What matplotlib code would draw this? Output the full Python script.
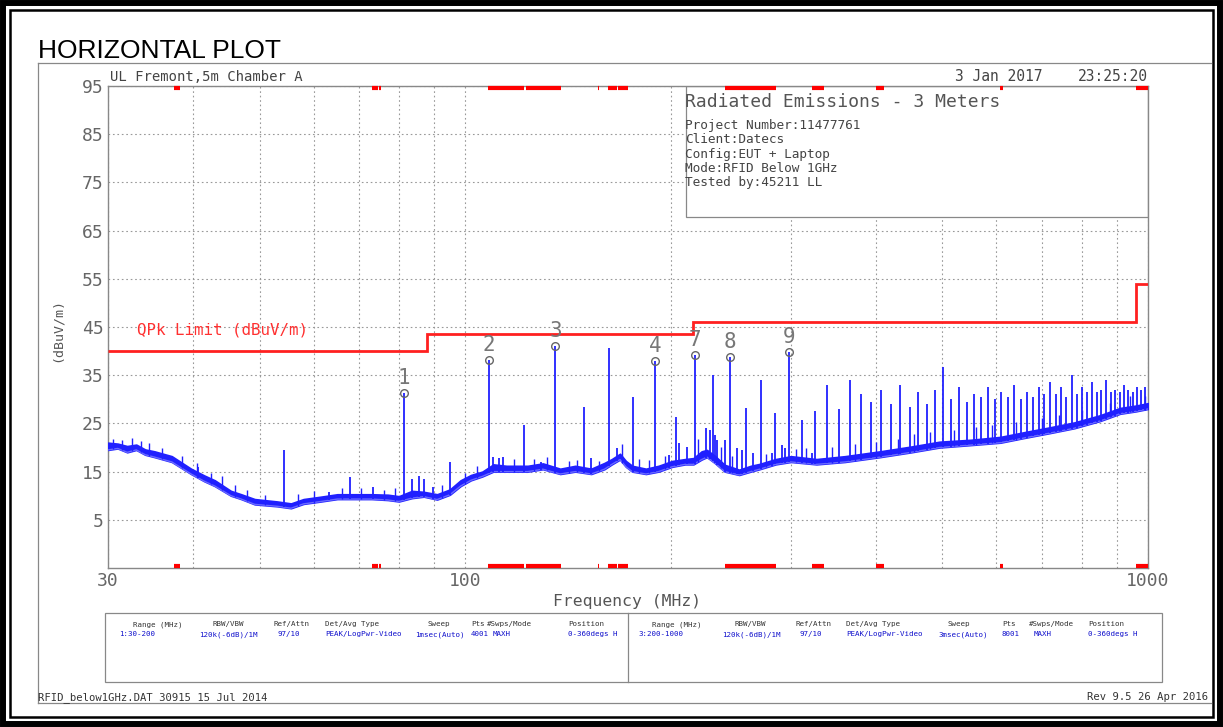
import numpy as np
import matplotlib
matplotlib.use("Agg")
import matplotlib.pyplot as plt
from matplotlib.patches import Rectangle
from matplotlib.lines import Line2D

W, H = 1223, 727
MONO = "DejaVu Sans Mono"
GRAY = "#555555"
BLUE = "#2020ff"

# noise floor envelope (MHz, dBuV/m)
floor_f = [30, 31, 32, 33, 34, 35.1, 37.2, 39.7, 41.5, 43, 45.4, 47, 49.2, 53.1, 55.6, 58,
           61.5, 65, 68.8, 73, 77.1, 80, 83.6, 87, 91, 95, 98.5, 102, 106, 110, 115, 123.5,
           130, 137.8, 145, 153, 160, 164, 168.6, 172, 175.7, 184, 192, 201, 210, 216, 222,
           226, 232, 240, 252, 262, 270, 285, 300, 327, 360, 405, 450, 495, 550, 608, 660,
           719, 780, 851, 910, 960, 1000]
floor_lo = [19.5, 19.8, 19.0, 19.5, 18.5, 18.0, 17.0, 14.5, 13.0, 12.0, 10.0, 9.3, 8.2, 7.8, 7.4, 8.3,
            8.8, 9.3, 9.3, 9.3, 9.1, 8.8, 9.5, 9.8, 9.2, 10.2, 12.0, 13.2, 14.0, 15.0, 15.0, 15.0,
            15.5, 14.5, 15.0, 14.5, 15.5, 16.5, 17.5, 16.0, 15.0, 14.5, 15.0, 16.0, 16.5, 16.5, 17.5,
            18.0, 16.8, 15.0, 14.3, 15.0, 15.5, 16.5, 17.0, 16.5, 17.0, 18.0, 19.0, 20.0, 20.5, 21.0, 22.0,
            23.0, 24.0, 25.5, 27.0, 27.5, 28.0]
floor_hi = [21.0, 20.8, 20.3, 20.6, 19.6, 19.2, 18.2, 15.6, 14.2, 13.2, 11.0, 10.3, 9.3, 8.8, 8.4, 9.3,
            9.8, 10.3, 10.3, 10.3, 10.2, 9.9, 11.0, 10.8, 10.3, 11.3, 13.2, 14.3, 15.0, 16.5, 16.2, 16.2,
            16.7, 15.6, 16.2, 15.6, 16.8, 17.6, 18.7, 17.2, 16.2, 15.6, 16.2, 17.2, 17.6, 17.8, 19.2,
            19.5, 18.3, 16.4, 15.4, 16.2, 16.6, 17.6, 18.2, 17.6, 18.2, 19.2, 20.2, 21.2, 21.6, 22.2, 23.2,
            24.2, 25.2, 26.7, 28.2, 28.7, 29.2]

# small noise peaks riding on the floor
grass_f = [30.5, 31.5, 32.5, 33.5, 34.5, 36, 38.5, 40.5, 42.5, 44, 46, 48, 51, 57, 60, 66, 70.5, 76,
           79, 92.5, 100, 104, 118, 126, 132, 142, 146, 157, 170, 180, 186, 196, 219, 237, 246, 276,
           305, 316, 345, 372, 400, 430, 455, 480, 520, 560, 590, 640, 700, 740, 800, 880, 940, 990]
grass_db = [21.8, 21.5, 22.0, 21.3, 21.0, 20.0, 18.3, 16.8, 14.8, 14.0, 12.2, 11.2, 10.2, 10.4, 11.0,
            11.7, 11.7, 11.2, 11.7, 12.2, 14.7, 16.2, 17.7, 17.7, 18.0, 17.2, 17.5, 17.2, 20.7, 17.7,
            17.4, 18.2, 21.7, 20.2, 18.2, 18.7, 19.7, 20.0, 20.2, 20.7, 21.2, 21.7, 22.7, 23.2, 23.7,
            24.2, 24.7, 25.2, 26.2, 26.7, 27.7, 29.2, 30.7, 30.7]

# emission spikes below 330 MHz
spike_f_low = [40.68, 54.24, 63.3, 67.8, 73.4, 81.36, 83.5, 85.5, 87, 89.6, 94.92, 108.48, 110, 112,
               113.8, 122.04, 129, 135.6, 149.16, 153, 162.72, 167, 176.28, 189.84, 199, 203.4, 206,
               211, 216.96, 225, 228, 230.52, 232, 234, 240, 244.08, 250, 254, 257.64, 264, 271.2,
               281, 284.76, 291, 294, 298.32, 311.88, 322]
spike_db_low = [15.9, 19.5, 10.8, 13.9, 11.8, 31.3, 13.5, 14.0, 13.5, 11.8, 17.0, 38.2, 18.0, 17.8,
                18.0, 24.7, 17.0, 41.0, 28.4, 17.8, 40.6, 19.9, 30.5, 38.0, 18.5, 26.3, 20.9,
                20.2, 39.2, 24.0, 23.6, 35.0, 22.6, 21.6, 21.6, 38.8, 19.9, 19.5, 28.2, 18.9, 34.0,
                18.9, 27.2, 20.5, 19.9, 39.8, 25.7, 18.9]

# emission spikes above 330 MHz
spike_f_high = [325.4, 339.0, 352.6, 366.1, 379.7, 393.2, 406.8, 420.4, 433.9, 447.5, 461.0, 474.6,
                488.2, 501.7, 515.3, 528.8, 542.4, 556.0, 569.5, 583.1, 596.6, 610.2, 623.8, 637.3,
                650.9, 664.4, 678.0, 691.6, 705.1, 718.7, 732.2, 745.8, 759.4, 772.9, 786.5, 800.0,
                813.6, 827.2, 840.7, 854.3, 867.8, 881.4, 895.0, 908.5, 922.1, 935.6, 949.2, 962.8,
                976.3, 989.9]
spike_db_high = [27.5, 33.0, 28.0, 34.0, 31.0, 29.5, 32.0, 29.0, 33.0, 28.5, 31.5, 29.0,
                 32.0, 36.7, 30.0, 32.5, 29.5, 31.0, 30.5, 32.5, 30.0, 31.5, 30.5, 33.0,
                 30.0, 31.5, 30.5, 32.5, 31.0, 33.5, 31.0, 32.5, 30.5, 35.0, 31.0, 32.5,
                 31.5, 33.5, 31.5, 32.0, 34.0, 31.5, 32.0, 31.5, 33.0, 32.0, 31.5, 32.5,
                 32.0, 32.5]

# QPk limit
limit_edges = [30, 88, 216, 960, 1000]
limit_db = [40, 43.5, 46, 54]

# markers
marker_num = ["1", "2", "3", "4", "7", "8", "9"]
marker_f = [81.36, 108.48, 135.6, 189.84, 216.96, 244.08, 298.32]
marker_db = [31.3, 38.2, 41.0, 38.0, 39.2, 38.8, 39.8]

# restricted bands
band_lo = [37.5, 73, 74.8, 108, 123, 149.9, 156.52, 156.7, 162.0125, 167.72, 240, 322, 399.9, 608, 960]
band_hi = [38.25, 74.6, 75.2, 121.94, 138, 150.05, 156.53, 156.9, 167.17, 173.2, 285, 335.4, 410, 614, 1000]

hdr_cols = ["Range (MHz)", "RBW/VBW", "Ref/Attn", "Det/Avg Type", "Sweep", "Pts", "#Swps/Mode", "Position"]
row1 = ["1:30-200", "120k(-6dB)/1M", "97/10", "PEAK/LogPwr-Video", "1msec(Auto)", "4001", "MAXH", "0-360degs H"]
row2 = ["3:200-1000", "120k(-6dB)/1M", "97/10", "PEAK/LogPwr-Video", "3msec(Auto)", "8001", "MAXH", "0-360degs H"]

info_lines = ["Project Number:11477761", "Client:Datecs", "Config:EUT + Laptop",
              "Mode:RFID Below 1GHz", "Tested by:45211 LL"]


def px(x, y):
    return x / W, 1 - y / H


def hline(x0, x1, y, **kw):
    fig.add_artist(Line2D([x0 / W, x1 / W], [1 - y / H, 1 - y / H], transform=fig.transFigure, **kw))


def vline(x, y0, y1, **kw):
    fig.add_artist(Line2D([x / W, x / W], [1 - y0 / H, 1 - y1 / H], transform=fig.transFigure, **kw))


fig = plt.figure(figsize=(W / 100, H / 100), dpi=100)

# page frame
fig.add_artist(Rectangle(px(3, H - 3), (W - 6) / W, (H - 6) / H, transform=fig.transFigure,
                         fill=False, lw=4.3, ec="black"))
fig.add_artist(Rectangle(px(10, H - 10), (W - 20) / W, (H - 20) / H, transform=fig.transFigure,
                         fill=False, lw=1.8, ec="black"))
hline(38, 1211, 63, color="#888888", lw=0.9)
hline(38, 1211, 703, color="#888888", lw=0.9)
vline(38, 63, 703, color="#888888", lw=0.9)

ax = fig.add_axes([108 / W, 1 - 568 / H, 1040 / W, 482 / H])
ax.set_xscale("log")
ax.set_xlim(30, 1000)
ax.set_ylim(-5, 95)

ax.set_yticks(np.arange(5, 96, 10))
ax.set_yticklabels([str(v) for v in range(5, 96, 10)], fontsize=13, color="#666666", family=MONO)
ax.set_xticks([30, 100, 1000])
ax.set_xticklabels(["30", "100", "1000"], fontsize=13, color="#666666", family=MONO)
ax.set_xticks([40, 50, 60, 70, 80, 90, 200, 300, 400, 500, 600, 700, 800, 900], minor=True)
ax.xaxis.set_minor_formatter(matplotlib.ticker.NullFormatter())
ax.tick_params(which="both", length=0, pad=3)
ax.grid(True, which="both", axis="x", color="#999999", lw=0.8, ls=(0, (1.5, 2.5)))
ax.grid(True, which="major", axis="y", color="#999999", lw=0.8, ls=(0, (1.5, 2.5)))
for s in ax.spines.values():
    s.set_color("#888888")
    s.set_linewidth(1.0)

# info box
ax.add_patch(Rectangle((0.5553, 0.7282), 0.4447, 0.2718, transform=ax.transAxes,
                       facecolor="white", edgecolor="#888888", lw=0.9, zorder=2))

# trace
ax.fill_between(floor_f, floor_lo, floor_hi, color=BLUE, ec=BLUE, lw=1.2, zorder=3)
ax.plot(floor_f, floor_lo, color="#6a6aff", lw=1.0, zorder=3)
ax.vlines(grass_f, np.interp(grass_f, floor_f, floor_lo), grass_db, color=BLUE, lw=1.0, zorder=3)
base_low = np.interp(spike_f_low, floor_f, floor_lo)
base_high = np.interp(spike_f_high, floor_f, floor_lo)
ax.vlines(spike_f_low, base_low, spike_db_low, color=BLUE, lw=1.3, zorder=3)
ax.vlines(spike_f_high, base_high, spike_db_high, color=BLUE, lw=1.3, zorder=3)

# limit
ax.stairs(limit_db, limit_edges, color="#ff2020", lw=2.0, zorder=4, baseline=None)
ax.text(33.1, 44.4, "QPk Limit (dBuV/m)", color="#ff3030", fontsize=11.4, family=MONO,
        va="center", zorder=4)

# markers
ax.plot(marker_f, marker_db, "o", mfc="none", mec="#666666", ms=5.5, mew=1.0, zorder=5)
for n, f, d in zip(marker_num, marker_f, marker_db):
    ax.annotate(n, (f, d), xytext=(0, 3.5), textcoords="offset points", ha="center", va="bottom",
                fontsize=15, color="#777777", family=MONO, zorder=5)

# restricted band bars
for lo, hi in zip(band_lo, band_hi):
    for yy in (94.55, -4.55):
        ax.add_line(Line2D([lo, hi], [yy, yy], color="red", lw=3.0, solid_capstyle="butt",
                           clip_on=False, zorder=6))

# header texts
fig.text(*px(38, 58), "HORIZONTAL PLOT", fontsize=19, family="Liberation Sans", color="black")
fig.text(*px(110, 81), "UL Fremont,5m Chamber A", fontsize=10, family=MONO, color="#444444")
fig.text(*px(955, 81), "3 Jan 2017", fontsize=10.5, family=MONO, color="#444444")
fig.text(*px(1148, 81), "23:25:20", fontsize=10.5, family=MONO, color="#444444", ha="right")

fig.text(*px(685, 107), "Radiated Emissions - 3 Meters", fontsize=13, family=MONO, color="#555555")
for i, line in enumerate(info_lines):
    fig.text(*px(685, 129 + i * 14.3), line, fontsize=9.2, family=MONO, color="#444444")

fig.text(*px(627, 606), "Frequency (MHz)", fontsize=11.8, family=MONO, color=GRAY, ha="center")
fig.text(*px(57, 330), "(dBuV/m)", fontsize=9.5, family=MONO, color=GRAY, rotation=90,
         ha="center", va="center")

# settings table
fig.add_artist(Rectangle(px(105, 682), (1162 - 105) / W, (682 - 613) / H, transform=fig.transFigure,
                         fill=False, lw=0.9, ec="#888888"))
vline(628, 613, 682, color="#888888", lw=0.9)
hdr_x1 = [133, 213, 274, 325, 427, 471, 487, 568]
val_x1 = [119, 199, 278, 325, 415, 471, 493, 568]
hdr_x2 = [652, 735, 795, 846, 947, 1002, 1029, 1088]
val_x2 = [638, 722, 799, 846, 938, 1002, 1034, 1088]
for cols, xs in ((hdr_cols, hdr_x1), (hdr_cols, hdr_x2)):
    for t, x in zip(cols, xs):
        fig.text(*px(x, 626), t, fontsize=5.4, family=MONO, color="#333333")
for cols, xs in ((row1, val_x1), (row2, val_x2)):
    for t, x in zip(cols, xs):
        fig.text(*px(x, 636), t, fontsize=5.4, family=MONO, color="#1010cc")

# footer
fig.text(*px(38, 700), "RFID_below1GHz.DAT 30915 15 Jul 2014", fontsize=7.6, family=MONO, color="#333333")
fig.text(*px(1208, 700), "Rev 9.5 26 Apr 2016", fontsize=7.6, family=MONO, color="#333333", ha="right")

fig.savefig("out.png", dpi=100)
